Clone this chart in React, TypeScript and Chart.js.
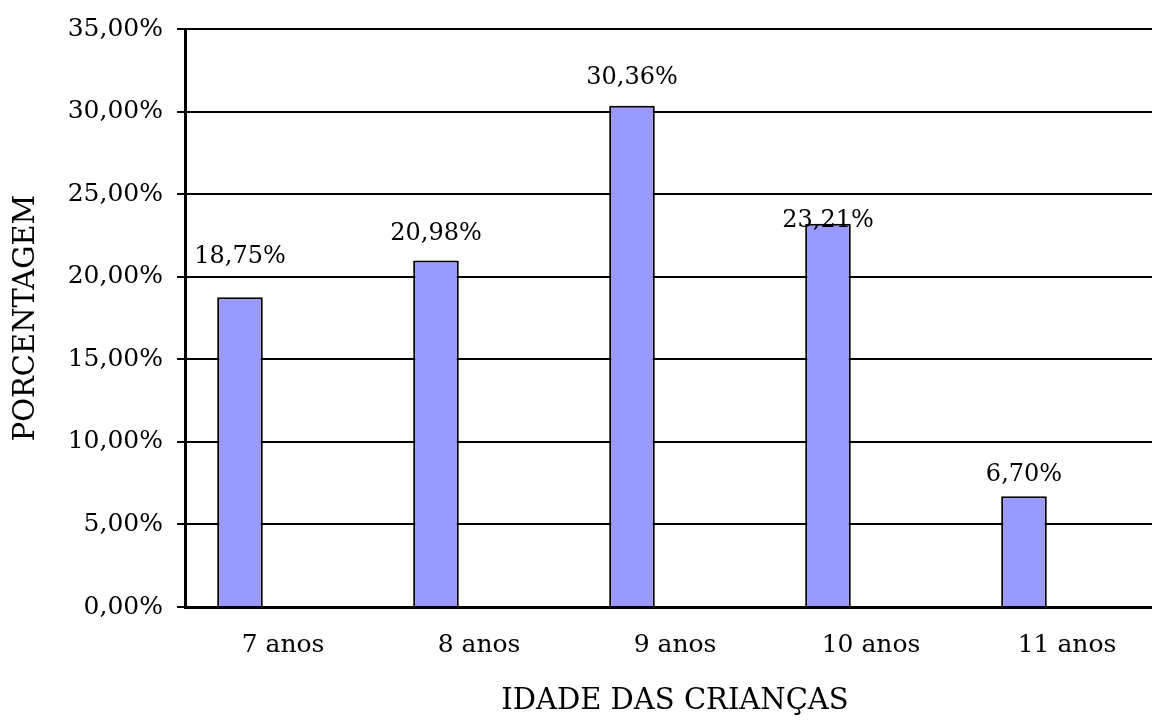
import React, { useEffect, useRef } from "react";
import { Chart, registerables } from "chart.js";

Chart.register(...registerables);

const categories: string[] = ["7 anos", "8 anos", "9 anos", "10 anos", "11 anos"];
const percentValues: number[] = [18.75, 20.98, 30.36, 23.21, 6.7];
const emptySeries: (number | null)[] = [null, null, null, null, null];
const yTickValues: number[] = [0, 5, 10, 15, 20, 25, 30, 35];

const FONT = "'DejaVu Serif', serif";

const fmt = (v: number) => v.toFixed(2).replace(".", ",") + "%";

// label raise above each bar top (px)
const labelRaise: number[] = [34, 21, 22, -3, 15];

const valueLabelPlugin = {
  id: "valueLabels",
  afterDatasetsDraw(chart: any) {
    const meta = chart.getDatasetMeta(0);
    const ctx = chart.ctx;
    ctx.save();
    ctx.fillStyle = "#000";
    ctx.font = `24px ${FONT}`;
    ctx.textAlign = "center";
    ctx.textBaseline = "alphabetic";
    meta.data.forEach((el: any, i: number) => {
      ctx.fillText(fmt(percentValues[i]), el.x, el.y - labelRaise[i]);
    });
    ctx.restore();
  },
};

export default function App() {
  const ref = useRef<HTMLCanvasElement | null>(null);
  useEffect(() => {
    document.body.style.margin = "0";
    const c = ref.current!;
    const chart = new Chart(c, {
      type: "bar",
      data: {
        labels: categories,
        datasets: [
          {
            label: "Porcentagem",
            data: percentValues,
            backgroundColor: "#9999FF",
            borderColor: "#000",
            borderWidth: 2,
            borderSkipped: "bottom",
            categoryPercentage: 0.878,
            barPercentage: 0.53,
          },
          {
            label: "",
            data: emptySeries,
            backgroundColor: "transparent",
            categoryPercentage: 0.878,
            barPercentage: 0.53,
          },
        ],
      },
      options: {
        animation: false,
        responsive: false,
        maintainAspectRatio: false,
        layout: { padding: { top: 28, right: 15, left: 0, bottom: 0 } },
        plugins: {
          legend: { display: false },
          tooltip: { enabled: false },
        },
        scales: {
          x: {
            grid: { display: false },
            border: { display: true, color: "#000", width: 3 },
            ticks: {
              color: "#000",
              font: { family: FONT, size: 25 },
              padding: 15,
              maxRotation: 0,
            },
            title: {
              display: true,
              text: "IDADE DAS CRIANÇAS",
              color: "#000",
              font: { family: FONT, size: 29 },
              padding: { top: 14, bottom: 1 },
            },
            afterFit: (s: any) => {
              s.height = 113;
            },
          },
          y: {
            min: 0,
            max: 35,
            afterBuildTicks: (s: any) => {
              s.ticks = yTickValues.map((v) => ({ value: v }));
            },
            grid: {
              color: "#000",
              lineWidth: 2,
              tickLength: 8,
              drawTicks: true,
            },
            border: { display: true, color: "#000", width: 3 },
            ticks: {
              color: "#000",
              font: { family: FONT, size: 25 },
              padding: 14,
              callback: (v: any) => fmt(Number(v)),
            },
            title: {
              display: true,
              text: "PORCENTAGEM",
              color: "#000",
              font: { family: FONT, size: 29 },
              padding: { top: 9, bottom: 0 },
            },
            afterFit: (s: any) => {
              s.width = 185;
            },
          },
        },
      },
      plugins: [
        valueLabelPlugin,
        {
          id: "bg",
          beforeDraw(ch: any) {
            const g = ch.ctx;
            g.save();
            g.fillStyle = "#fff";
            g.fillRect(0, 0, ch.width, ch.height);
            g.restore();
          },
        },
      ],
    });
    return () => chart.destroy();
  }, []);
  return (
    <div
      style={{
        position: "absolute",
        left: 0,
        top: 0,
        width: 1152,
        height: 720,
        overflow: "hidden",
        background: "#fff",
      }}
    >
      <canvas ref={ref} width={1180} height={720} style={{ width: 1180, height: 720, display: "block" }} />
    </div>
  );
}
